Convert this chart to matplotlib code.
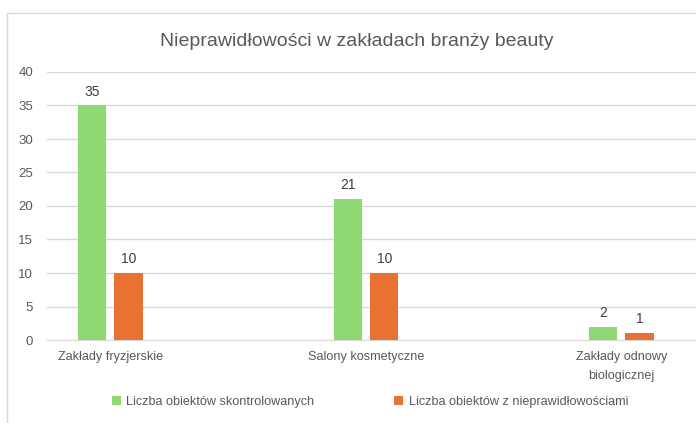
import matplotlib
matplotlib.use("Agg")
import matplotlib.pyplot as plt
from matplotlib.patches import Rectangle
import numpy as np

categories = ["Zakłady fryzjerskie", "Salony kosmetyczne", "Zakłady odnowy\nbiologicznej"]
series_names = ["Liczba obiektów skontrolowanych", "Liczba obiektów z nieprawidłowościami"]
checked = [35, 21, 2]
irregular = [10, 10, 1]
title = "Nieprawidłowości w zakładach branży beauty"

GREEN = "#8ED973"
ORANGE = "#E97132"
GRID = "#D9D9D9"
TXT = "#595959"

plt.rcParams['font.family'] = ['Liberation Sans', 'DejaVu Sans']

W, H = 696, 423
fig = plt.figure(figsize=(W / 100, H / 100), dpi=100)

# chart frame
fig.patches.append(Rectangle((7 / W, -0.1), 1.2, (H - 13) / H + 0.1, transform=fig.transFigure,
                             fill=False, edgecolor=GRID, linewidth=1.0))

ax = fig.add_axes([47 / W, (H - 340) / H, (W - 47) / W, (340 - 72) / H])
x = np.arange(len(categories))
bw = 0.1115
off = 0.0714
b1 = ax.bar(x - off, checked, width=bw, color=GREEN, label=series_names[0], zorder=3)
b2 = ax.bar(x + off, irregular, width=bw, color=ORANGE, label=series_names[1], zorder=3)
for bars in (b1, b2):
    ax.bar_label(bars, padding=5, fontsize=10, color="#404040")

ax.set_xlim(-0.2485, 2.2916)
ax.set_ylim(0, 40)
ax.set_yticks(range(0, 41, 5))
ax.yaxis.grid(True, color=GRID, linewidth=1.0, zorder=0)
ax.set_axisbelow(True)
for s in ("top", "right", "left"):
    ax.spines[s].set_visible(False)
ax.spines["bottom"].set_color(GRID)
ax.tick_params(axis="both", length=0, colors=TXT)
ax.tick_params(axis="y", pad=10, labelsize=9.5)
ax.tick_params(axis="x", pad=8, labelsize=9.1)
ax.set_xticks(x)
ax.set_xticklabels(categories, linespacing=1.75)

fig.text(357 / W, 1 - 41 / H, title, ha="center", va="center", fontsize=14, color=TXT)

leg = fig.legend(loc="center", bbox_to_anchor=(370 / W, 1 - 402 / H), ncol=2, frameon=False,
                 fontsize=9.1, handlelength=0.7, handleheight=0.7, handletextpad=0.45,
                 columnspacing=6.3, labelcolor=TXT)

fig.savefig("out.png", dpi=100)
